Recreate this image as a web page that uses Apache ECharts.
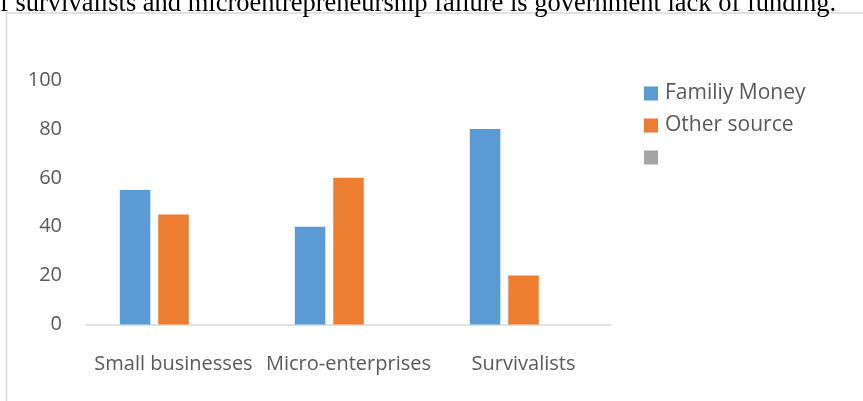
<!DOCTYPE html>
<html>
<head>
<meta charset="utf-8">
<script src="https://cdn.jsdelivr.net/npm/echarts@6/dist/echarts.min.js"></script>
<style>
  html, body { margin: 0; padding: 0; background: #fff; }
  #chart { width: 863px; height: 401px; }
</style>
</head>
<body>
<div id="chart"></div>
<script>
// Funding source by business type (percent)
const categories = ['Small businesses', 'Micro-enterprises', 'Survivalists'];
const familyMoney = [55, 40, 80];
const otherSource = [45, 60, 20];
const emptySeries = [];
const yTicks = { min: 0, max: 100, interval: 20 };
const seriesNames = ['Familiy Money', 'Other source', ' '];
const captionText = 'of survivalists and microentrepreneurship failure is government lack of funding.';

const textColor = '#595959';
const fontFamily = '"Open Sans", "Noto Sans", sans-serif';

const chart = echarts.init(document.getElementById('chart'), null, { renderer: 'canvas' });

chart.setOption({
  animation: false,
  backgroundColor: '#ffffff',
  color: ['#5b9bd5', '#ed7d31', '#a5a5a5'],
  graphic: [
    {
      type: 'rect',
      shape: { x: 6.5, y: 13, width: 1000, height: 500 },
      style: { fill: 'none', stroke: '#d9d9d9', lineWidth: 1.5 },
      silent: true
    },
    {
      type: 'text',
      x: 836,
      y: 18,
      style: {
        text: captionText,
        font: '26.5px "Liberation Serif", "Times New Roman", serif',
        fill: '#000000',
        textAlign: 'right',
        textVerticalAlign: 'bottom'
      },
      silent: true
    }
  ],
  grid: { left: 86, right: 252, top: 80, bottom: 76.5 },
  legend: {
    orient: 'vertical',
    left: 639,
    top: 78,
    itemWidth: 14,
    itemHeight: 14,
    itemGap: 11,
    textStyle: { color: textColor, fontSize: 21, fontFamily: fontFamily, padding: [0, 0, 0, 2] },
    data: seriesNames.map(n => ({ name: n, icon: 'rect' }))
  },
  xAxis: {
    type: 'category',
    data: categories,
    axisLine: { lineStyle: { color: '#d9d9d9', width: 1.5 } },
    axisTick: { show: false },
    axisLabel: { color: textColor, fontSize: 20, fontFamily: fontFamily, margin: 30, interval: 0 }
  },
  yAxis: {
    type: 'value',
    min: yTicks.min,
    max: yTicks.max,
    interval: yTicks.interval,
    axisLine: { show: false },
    axisTick: { show: false },
    splitLine: { show: false },
    axisLabel: { color: textColor, fontSize: 20, fontFamily: fontFamily, margin: 24 }
  },
  series: [
    { name: seriesNames[0], type: 'bar', data: familyMoney, barWidth: 30.5, barGap: '26%' },
    { name: seriesNames[1], type: 'bar', data: otherSource, barWidth: 30.5, barGap: '26%' },
    { name: seriesNames[2], type: 'bar', data: emptySeries, barWidth: 30.5, barGap: '26%' }
  ]
});
</script>
</body>
</html>
